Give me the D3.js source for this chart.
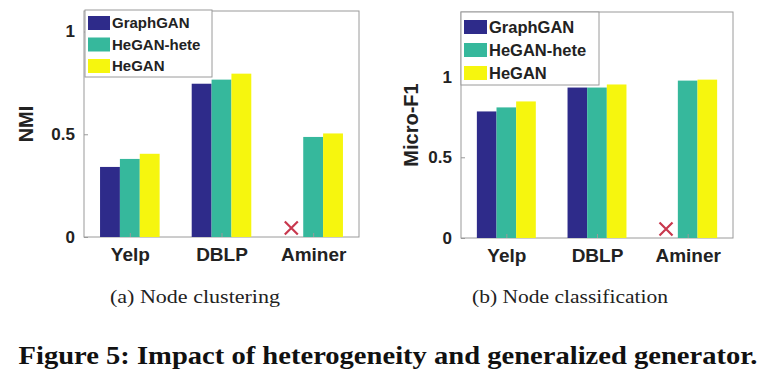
<!DOCTYPE html>
<html>
<head>
<meta charset="utf-8">
<script src="https://cdn.jsdelivr.net/npm/d3@7"></script>
<style>
  body { margin: 0; background: #fff; }
  svg { font-family: "Liberation Sans", Arial, sans-serif; }
</style>
</head>
<body>
<svg id="fig" width="774" height="389"></svg>
<script>
// data
const datasets = ["Yelp", "DBLP", "Aminer"];
const methods = ["GraphGAN", "HeGAN-hete", "HeGAN"];
const methodColors = ["#2e2b8a", "#36b89c", "#f6f60e"];

// null = not available (drawn as a red cross)
const nmiGraphGAN = [0.341, 0.746, null];
const nmiHete = [0.380, 0.766, 0.487];
const nmiHeGAN = [0.405, 0.795, 0.504];

const f1GraphGAN = [0.784, 0.932, null];
const f1Hete = [0.809, 0.932, 0.975];
const f1HeGAN = [0.846, 0.951, 0.981];

const nmiTicks = [0, 0.5, 1];
const f1Ticks = [0, 0.5, 1];

const svg = d3.select("#fig");
const sans = "'Liberation Sans', Arial, sans-serif";
const serif = "'Liberation Serif', 'DejaVu Serif', serif";

const color = d3.scaleOrdinal().domain(methods).range(methodColors);

function drawPanel(opt) {
  const g = svg.append("g");
  const x = d3.scaleLinear().domain([0.5, 3.5]).range([opt.left, opt.right]);
  const y = d3.scaleLinear().domain(opt.yDomain).range([opt.bottom, opt.top]);
  const unit = x(2) - x(1);
  const sub = d3.scaleBand().domain(methods).range([-0.325 * unit, 0.325 * unit]);

  // axes box
  g.append("rect")
    .attr("x", opt.left).attr("y", opt.top)
    .attr("width", opt.right - opt.left).attr("height", opt.bottom - opt.top)
    .attr("fill", "none").attr("stroke", "#9a9a9a").attr("stroke-width", 1);

  // bars
  const rows = opt.series.map((vals, i) => vals.map((v, j) => ({method: methods[i], dataset: j + 1, value: v})));
  const flat = rows.flat();

  g.selectAll("rect.bar")
    .data(flat.filter(d => d.value !== null))
    .enter().append("rect")
    .attr("class", "bar")
    .attr("x", d => x(d.dataset) + sub(d.method))
    .attr("y", d => y(d.value))
    .attr("width", sub.bandwidth())
    .attr("height", d => y(0) - y(d.value))
    .attr("fill", d => color(d.method));

  // missing values
  const sz = 6.5;
  flat.filter(d => d.value === null).forEach(d => {
    const cx = x(d.dataset) + sub(d.method) + sub.bandwidth() / 2 - 2;
    const cy = y(0) - 9;
    g.append("path")
      .attr("d", `M${cx - sz},${cy - sz}L${cx + sz},${cy + sz}M${cx - sz},${cy + sz}L${cx + sz},${cy - sz}`)
      .attr("stroke", "#c8384e").attr("stroke-width", 2.2).attr("fill", "none");
  });

  // y axis
  const yAxis = g.append("g")
    .attr("transform", `translate(${opt.left},0)`)
    .call(d3.axisLeft(y).tickValues(opt.ticks).tickFormat(d3.format("~g")).tickSize(-4).tickPadding(9));
  yAxis.select(".domain").remove();
  yAxis.selectAll("line").attr("stroke", "#9a9a9a");
  yAxis.selectAll("text")
    .attr("fill", "#222").attr("font-weight", "bold")
    .attr("font-size", opt.tickSize).style("font-family", sans);

  // x axis
  const xAxis = g.append("g")
    .attr("transform", `translate(0,${opt.bottom})`)
    .call(d3.axisBottom(x).tickValues([1, 2, 3]).tickFormat(i => datasets[i - 1]).tickSize(-4).tickPadding(11));
  xAxis.select(".domain").remove();
  xAxis.selectAll("line").attr("stroke", "#9a9a9a");
  xAxis.selectAll("text")
    .attr("fill", "#222").attr("font-weight", "bold")
    .attr("font-size", opt.xLabelSize).style("font-family", sans);

  // y label
  g.append("text")
    .attr("transform", `translate(${opt.yLabelX},${(opt.top + opt.bottom) / 2}) rotate(-90)`)
    .attr("text-anchor", "middle")
    .attr("font-weight", "bold").attr("font-size", opt.yLabelSize).attr("fill", "#222")
    .style("font-family", sans)
    .text(opt.yLabel);

  // legend
  const lg = g.append("g").attr("transform", `translate(${opt.legend.x},${opt.legend.y})`);
  lg.append("rect")
    .attr("width", opt.legend.w).attr("height", opt.legend.h)
    .attr("fill", "#fff").attr("stroke", "#9a9a9a").attr("stroke-width", 1);
  methods.forEach((m, i) => {
    const ry = opt.legend.first + i * opt.legend.step;
    lg.append("rect")
      .attr("x", 3).attr("y", ry - 7).attr("width", opt.legend.sw).attr("height", 14)
      .attr("fill", color(m));
    lg.append("text")
      .attr("x", opt.legend.sw + 5).attr("y", ry)
      .attr("dy", "0.36em")
      .attr("font-weight", "bold").attr("font-size", opt.legend.fs).attr("fill", "#222")
      .style("font-family", sans)
      .text(m);
  });

  // caption
  svg.append("text")
    .attr("x", opt.captionX).attr("y", 303)
    .attr("text-anchor", "middle")
    .style("font-family", serif)
    .attr("font-size", 19).attr("fill", "#222")
    .attr("textLength", opt.captionW).attr("lengthAdjust", "spacingAndGlyphs")
    .text(opt.caption);
}

drawPanel({
  left: 84, right: 359, top: 11, bottom: 237,
  yDomain: [0, 1.1], ticks: nmiTicks,
  series: [nmiGraphGAN, nmiHete, nmiHeGAN],
  yLabel: "NMI", yLabelX: 33, yLabelSize: 20,
  tickSize: 17, xLabelSize: 19,
  legend: {x: 85, y: 10, w: 127, h: 67, first: 13, step: 21.5, sw: 22, fs: 15},
  caption: "(a)  Node clustering", captionX: 195, captionW: 170
});

drawPanel({
  left: 461, right: 733, top: 12, bottom: 238,
  yDomain: [0, 1.4], ticks: f1Ticks,
  series: [f1GraphGAN, f1Hete, f1HeGAN],
  yLabel: "Micro-F1", yLabelX: 418, yLabelSize: 20,
  tickSize: 17, xLabelSize: 19,
  legend: {x: 461, y: 12, w: 138, h: 73, first: 15, step: 23, sw: 23, fs: 16.5},
  caption: "(b)  Node classification", captionX: 570, captionW: 196
});

// figure title
svg.append("text")
  .attr("x", 388).attr("y", 364)
  .attr("text-anchor", "middle")
  .style("font-family", serif)
  .attr("font-weight", "bold").attr("font-size", 26).attr("fill", "#111")
  .attr("textLength", 739).attr("lengthAdjust", "spacingAndGlyphs")
  .text("Figure 5: Impact of heterogeneity and generalized generator.");
</script>
</body>
</html>
